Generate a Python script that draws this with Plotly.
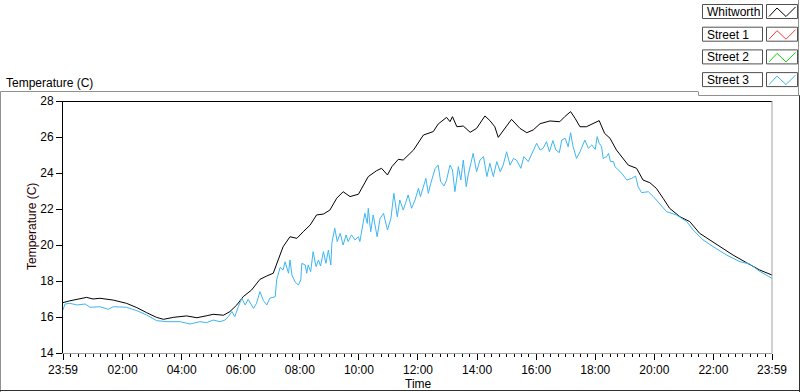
import plotly.graph_objects as go
from datetime import datetime, timedelta

# ---------------- data ----------------
whitworth_time = ["23:59", "00:13", "00:47", "01:00", "01:14", "01:41", "02:08", "02:29", "02:49", "03:09",
                  "03:23", "03:43", "04:10", "04:31", "04:51", "05:04", "05:25", "05:38", "05:52", "06:05",
                  "06:22", "06:39", "06:53", "07:06", "07:16", "07:26", "07:40", "07:54", "08:07", "08:21",
                  "08:34", "08:48", "09:01", "09:15", "09:28", "09:42", "09:59", "10:09", "10:19", "10:36",
                  "10:46", "10:58", "11:07", "11:20", "11:30", "11:51", "12:11", "12:31", "12:41", "12:58",
                  "13:05", "13:10", "13:19", "13:32", "13:46", "13:59", "14:16", "14:26", "14:36", "14:43",
                  "14:53", "15:10", "15:27", "15:41", "15:54", "16:08", "16:28", "16:48", "16:58", "17:10",
                  "17:19", "17:29", "17:42", "17:56", "18:08", "18:19", "18:30", "18:43", "18:57", "19:07",
                  "19:24", "19:37", "19:51", "20:04", "20:18", "20:31", "20:52", "21:12", "21:32", "21:53",
                  "22:13", "22:40", "23:07", "23:34", "23:59"]
whitworth_temp = [16.80, 16.90, 17.09, 17.00, 17.04, 16.94, 16.76, 16.52, 16.24, 15.98,
                  15.87, 15.98, 16.06, 15.96, 16.07, 16.15, 16.10, 16.30, 16.67, 17.13,
                  17.50, 18.09, 18.28, 18.43, 19.17, 19.90, 20.46, 20.37, 20.74, 21.11,
                  21.67, 21.72, 21.94, 22.60, 22.96, 22.69, 22.82, 23.33, 23.80, 24.13,
                  24.26, 23.89, 24.35, 24.76, 24.72, 25.28, 26.11, 26.30, 26.72, 27.09,
                  26.85, 27.13, 26.57, 26.61, 26.26, 26.48, 27.17, 26.91, 26.57, 25.98,
                  26.35, 26.98, 26.48, 26.24, 26.39, 26.74, 26.89, 26.85, 27.13, 27.41,
                  27.04, 26.57, 26.57, 26.76, 26.91, 26.20, 25.93, 25.28, 24.81, 24.44,
                  24.26, 23.61, 23.46, 23.15, 22.59, 22.04, 21.57, 21.30, 20.65, 20.28,
                  19.90, 19.44, 19.02, 18.61, 18.33]

street3_time = ["23:59", "00:03", "00:13", "00:27", "00:44", "00:54", "01:14", "01:31", "01:41", "02:08",
                "02:29", "02:49", "03:09", "03:30", "03:57", "04:17", "04:37", "04:51", "05:04", "05:18",
                "05:28", "05:35", "05:42", "05:48", "05:55", "06:02", "06:09", "06:15", "06:26", "06:32",
                "06:39", "06:46", "06:53", "06:59", "07:10", "07:13", "07:20", "07:26", "07:30", "07:37",
                "07:40", "07:44", "07:50", "07:57", "08:02", "08:04", "08:11", "08:14", "08:17", "08:22",
                "08:27", "08:33", "08:38", "08:42", "08:48", "08:53", "08:58", "09:03", "09:05", "09:11",
                "09:16", "09:22", "09:28", "09:34", "09:38", "09:45", "09:52", "09:59", "10:02", "10:08",
                "10:12", "10:17", "10:19", "10:24", "10:29", "10:37", "10:43", "10:50", "10:58", "11:05",
                "11:11", "11:18", "11:23", "11:30", "11:40", "11:47", "11:54", "12:01", "12:05", "12:16",
                "12:21", "12:26", "12:35", "12:41", "12:46", "12:53", "12:58", "13:05", "13:10", "13:15",
                "13:22", "13:27", "13:32", "13:38", "13:42", "13:52", "13:59", "14:06", "14:13", "14:20",
                "14:26", "14:33", "14:40", "14:47", "14:53", "15:00", "15:07", "15:14", "15:20", "15:29",
                "15:35", "15:44", "15:54", "16:01", "16:08", "16:14", "16:21", "16:27", "16:34", "16:40",
                "16:47", "16:52", "16:59", "17:05", "17:10", "17:15", "17:22", "17:29", "17:39", "17:46",
                "17:53", "18:00", "18:04", "18:08", "18:13", "18:16", "18:23", "18:27", "18:31", "18:37",
                "18:40", "18:47", "18:54", "19:04", "19:14", "19:22", "19:27", "19:34", "19:48", "19:58",
                "20:11", "20:25", "20:45", "21:06", "21:19", "21:39", "22:00", "22:27", "22:54", "23:14",
                "23:35", "23:59"]
street3_temp = [16.39, 16.72, 16.76, 16.67, 16.72, 16.54, 16.57, 16.43, 16.57, 16.54,
                16.35, 16.11, 15.80, 15.74, 15.74, 15.61, 15.74, 15.69, 15.83, 15.74,
                15.83, 16.02, 16.30, 16.02, 16.57, 17.04, 16.67, 16.98, 16.48, 16.76,
                17.41, 16.91, 16.67, 17.04, 17.13, 18.06, 18.76, 18.61, 19.07, 18.43,
                19.17, 18.33, 17.96, 17.78, 18.06, 18.98, 18.89, 18.43, 18.89, 18.52,
                19.63, 18.80, 19.17, 18.83, 19.63, 18.98, 19.72, 18.89, 20.09, 20.93,
                20.19, 20.65, 20.00, 20.56, 20.19, 20.56, 20.28, 20.46, 20.19, 21.20,
                21.76, 21.20, 22.04, 20.74, 21.67, 20.46, 21.48, 21.76, 20.83, 21.48,
                22.87, 21.57, 22.50, 21.94, 22.78, 22.04, 22.50, 23.15, 22.69, 23.70,
                22.87, 23.43, 24.26, 24.44, 23.52, 23.28, 23.61, 24.44, 24.17, 22.96,
                24.35, 23.61, 24.72, 23.24, 23.89, 25.09, 24.07, 24.72, 24.91, 23.80,
                24.54, 23.80, 24.63, 24.07, 24.44, 25.18, 24.44, 24.81, 24.72, 24.26,
                24.91, 24.63, 25.18, 25.65, 25.28, 25.37, 25.74, 25.18, 25.80, 25.28,
                25.13, 25.83, 25.93, 25.46, 26.24, 25.46, 24.81, 25.18, 25.83, 25.37,
                25.56, 25.31, 26.02, 25.65, 25.46, 24.81, 24.91, 25.09, 24.63, 24.63,
                24.35, 24.17, 23.98, 23.61, 23.70, 23.83, 23.24, 22.91, 22.96, 22.69,
                22.31, 21.85, 21.67, 21.30, 20.83, 20.28, 19.90, 19.44, 19.07, 18.94,
                18.52, 18.15]

legend_names = ["Whitworth", "Street 1", "Street 2", "Street 3"]
x_tick_labels = ["23:59", "02:00", "04:00", "06:00", "08:00", "10:00", "12:00",
                 "14:00", "16:00", "18:00", "20:00", "22:00", "23:59"]
y_tick_values = [14, 16, 18, 20, 22, 24, 26, 28]

# ---------------- styles ----------------
COLORS = {"Whitworth": "#000000", "Street 1": "#ff3a3a", "Street 2": "#10d010", "Street 3": "#3db6f2"}
FONT = "Liberation Sans, Arial, sans-serif"


def to_datetimes(labels):
    """First label is 23:59 of day 1, the rest belong to the following day."""
    day1 = datetime(2000, 1, 1)
    out = []
    for i, lab in enumerate(labels):
        h, m = map(int, lab.split(":"))
        base = day1 if i == 0 else day1 + timedelta(days=1)
        out.append(base + timedelta(hours=h, minutes=m))
    return out


wt = to_datetimes(whitworth_time)
st = to_datetimes(street3_time)
tickvals = to_datetimes(x_tick_labels)

fig = go.Figure()
fig.add_trace(go.Scatter(x=wt, y=whitworth_temp, mode="lines", name="Whitworth",
                         line=dict(color=COLORS["Whitworth"], width=1)))
fig.add_trace(go.Scatter(x=st, y=street3_temp, mode="lines", name="Street 3",
                         line=dict(color=COLORS["Street 3"], width=1)))

# pixel -> paper helpers (plot area 63..772 x 101..353)
PL, PR, PT, PB = 63, 772, 101, 353


def px(x):
    return (x - PL) / (PR - PL)


def py(y):
    return (PB - y) / (PB - PT)


shapes = []
annotations = []


def seg(x0, y0, x1, y1, color, w=1):
    shapes.append(dict(type="line", xref="paper", yref="paper",
                       x0=px(x0), y0=py(y0), x1=px(x1), y1=py(y1),
                       line=dict(color=color, width=w), layer="above"))


# plot area frame: top black, right gray
seg(63, 101.5, 772, 101.5, "#000000")
seg(772, 101, 772, 353, "#a0a0a0")

# outer graph frame
seg(0.5, 91.5, 698, 91.5, "#909090")
seg(698.5, 91.5, 698.5, 95.5, "#909090")
seg(698.5, 95.5, 800, 95.5, "#909090")
seg(798.5, 0, 798.5, 95.5, "#909090")
seg(0.5, 91.5, 0.5, 392, "#909090")
seg(0, 390.5, 800, 390.5, "#303030")
seg(799.5, 95.5, 799.5, 392, "#303030")

# custom legend
row_tops = [4.5, 27.2, 49.9, 72.6]
for name, top in zip(legend_names, row_tops):
    h = 14
    shapes.append(dict(type="rect", xref="paper", yref="paper",
                       x0=px(702.5), x1=px(762.5), y0=py(top + h), y1=py(top),
                       line=dict(color="#505050", width=1), fillcolor="white", layer="above"))
    shapes.append(dict(type="rect", xref="paper", yref="paper",
                       x0=px(766.5), x1=px(797.5), y0=py(top + h), y1=py(top),
                       line=dict(color="#505050", width=1), fillcolor="white", layer="above"))
    zz = [(769, top + 12), (777, top + 3.5), (786, top + 12), (795.5, top + 2.5)]
    path = "M " + " L ".join(f"{px(a)},{py(b)}" for a, b in zz)
    shapes.append(dict(type="path", xref="paper", yref="paper", path=path,
                       line=dict(color=COLORS[name], width=1), layer="above"))
    annotations.append(dict(text=name, xref="paper", yref="paper", x=px(705), y=py(top + h / 2 + 0.5),
                            xanchor="left", yanchor="middle", showarrow=False,
                            font=dict(family=FONT, size=12, color="#000000")))

# titles
annotations.append(dict(text="Temperature (C)", xref="paper", yref="paper", x=px(4), y=py(83),
                        xanchor="left", yanchor="middle", showarrow=False,
                        font=dict(family=FONT, size=12, color="#000000")))
annotations.append(dict(text="Temperature (C)", xref="paper", yref="paper", x=px(32), y=py(227),
                        xanchor="center", yanchor="middle", showarrow=False, textangle=-90,
                        font=dict(family=FONT, size=12, color="#2a0000")))
annotations.append(dict(text="Time", xref="paper", yref="paper", x=px(418), y=py(384),
                        xanchor="center", yanchor="middle", showarrow=False,
                        font=dict(family=FONT, size=12, color="#000000")))

fig.update_layout(
    width=800, height=392,
    margin=dict(l=PL, r=800 - PR, t=PT, b=392 - PB),
    paper_bgcolor="white", plot_bgcolor="white",
    showlegend=False,
    font=dict(family=FONT, size=12, color="#000000"),
    shapes=shapes, annotations=annotations,
    xaxis=dict(
        type="date", range=[tickvals[0], tickvals[-1]],
        tickmode="array", tickvals=tickvals, ticktext=x_tick_labels,
        ticks="outside", ticklen=6, tickcolor="#000000", tickwidth=1,
        showline=True, linecolor="#a0a0a0", linewidth=1,
        showgrid=False, zeroline=False,
        minor=dict(ticks="outside", ticklen=3, tickcolor="#000000", tickwidth=1,
                   dtick=15 * 60 * 1000, tick0="2000-01-02 00:00", showgrid=False),
        tickfont=dict(family=FONT, size=12, color="#000000"),
    ),
    yaxis=dict(
        range=[14, 28], tickmode="array", tickvals=y_tick_values,
        ticks="outside", ticklen=6, tickcolor="#000000", tickwidth=1,
        showline=True, linecolor="#000000", linewidth=1,
        showgrid=False, zeroline=False,
        tickfont=dict(family=FONT, size=12, color="#000000"),
    ),
)

fig.write_html("out.html",
               config={"displayModeBar": False},
               post_script="document.body.style.margin='0';document.body.style.padding='0';"
                           "document.documentElement.style.overflow='hidden';")
